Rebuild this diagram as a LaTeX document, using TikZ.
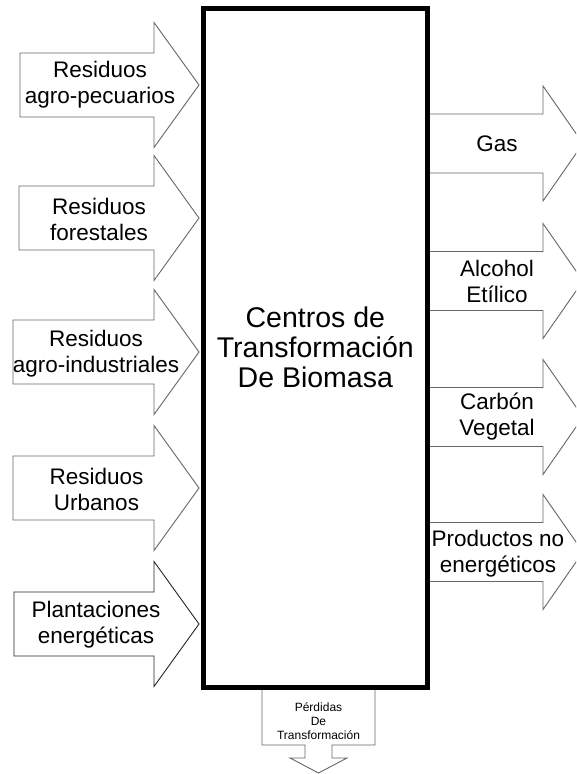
\documentclass[tikz,border=0pt]{standalone}
\usepackage{fontspec}
\setmainfont{Liberation Sans}
\tikzset{bloque/.style={ % Flechas gruesas de entrada y salida
            draw=black!60,
            line width=0.9pt,
            fill=white,
            line join=miter},
        etiqueta/.style={ % Texto de cada flecha
            align=center,
            inner sep=0pt,
            font=\fontsize{22.5}{26}\selectfont},
        centro/.style={ % Caja central
            draw,
            line width=5pt,
            minimum width=224pt,
            minimum height=679pt,
            align=center,
            font=\fontsize{28.5}{30}\selectfont}
        }

\begin{document}
\begin{tikzpicture}[x=1pt,y=-1pt]
    \clip (0,0) rectangle (576,774);

    % Entradas
    \draw[bloque] (20,53)   -- (154,53)  -- (154,22.5)  -- (199,85)  -- (154,147.5) -- (154,117) -- (20,117) -- cycle;
    \draw[bloque] (19,186)  -- (154,186) -- (154,155.5) -- (199,218) -- (154,280.5) -- (154,250) -- (19,250) -- cycle;
    \draw[bloque] (13,320)  -- (154,320) -- (154,289.5) -- (199,352) -- (154,414.5) -- (154,384) -- (13,384) -- cycle;
    \draw[bloque] (13,456)  -- (154,456) -- (154,425.5) -- (199,488) -- (154,550.5) -- (154,520) -- (13,520) -- cycle;
    \draw[bloque, draw=black!85] (14,592) -- (154,592) -- (154,561.5) -- (199,624) -- (154,686.5) -- (154,656) -- (14,656) -- cycle;

    \node[etiqueta] (agro)   at (100,85)  {Residuos\\agro-pecuarios};
    \node[etiqueta] (forest) at (99,219)  {Residuos\\forestales};
    \node[etiqueta] (indus)  at (96,354)  {Residuos\\agro-industriales};
    \node[etiqueta] (urb)    at (96.5,489) {Residuos\\Urbanos};
    \node[etiqueta] (plant)  at (96,625)  {Plantaciones\\energéticas};

    % Salidas
    \draw[bloque] (427,114)   -- (543,114)   -- (543,86)    -- (583,143.5) -- (543,201)   -- (543,173)   -- (427,173)   -- cycle;
    \draw[bloque] (427,251.5) -- (543,251.5) -- (543,223.5) -- (583,281)   -- (543,338.5) -- (543,310.5) -- (427,310.5) -- cycle;
    \draw[bloque] (427,387.5) -- (543,387.5) -- (543,359.5) -- (583,417)   -- (543,474.5) -- (543,446.5) -- (427,446.5) -- cycle;
    \draw[bloque] (427,522.5) -- (543,522.5) -- (543,494.5) -- (583,552)   -- (543,609.5) -- (543,581.5) -- (427,581.5) -- cycle;

    \node[etiqueta] (gas)       at (497,143.5) {Gas};
    \node[etiqueta] (alcohol)   at (497,281)   {Alcohol\\Etílico};
    \node[etiqueta] (carbon)    at (497,417)   {Carbón\\Vegetal};
    \node[etiqueta] (productos) at (498,554)   {Productos no\\energéticos};

    % Perdidas
    \draw[bloque] (262,688) -- (375,688) -- (375,745) -- (332,745) -- (332,758) -- (347,758)
        -- (318.5,773) -- (290,758) -- (305,758) -- (305,745) -- (262,745) -- cycle;
    \node[etiqueta, font=\fontsize{12}{14}\selectfont] (perdidas) at (318.5,721) {Pérdidas\\De\\Transformación};

    \node[centro] (biomasa) at (315.3,347.8) {Centros de\\Transformación\\De Biomasa};
\end{tikzpicture}
\end{document}
